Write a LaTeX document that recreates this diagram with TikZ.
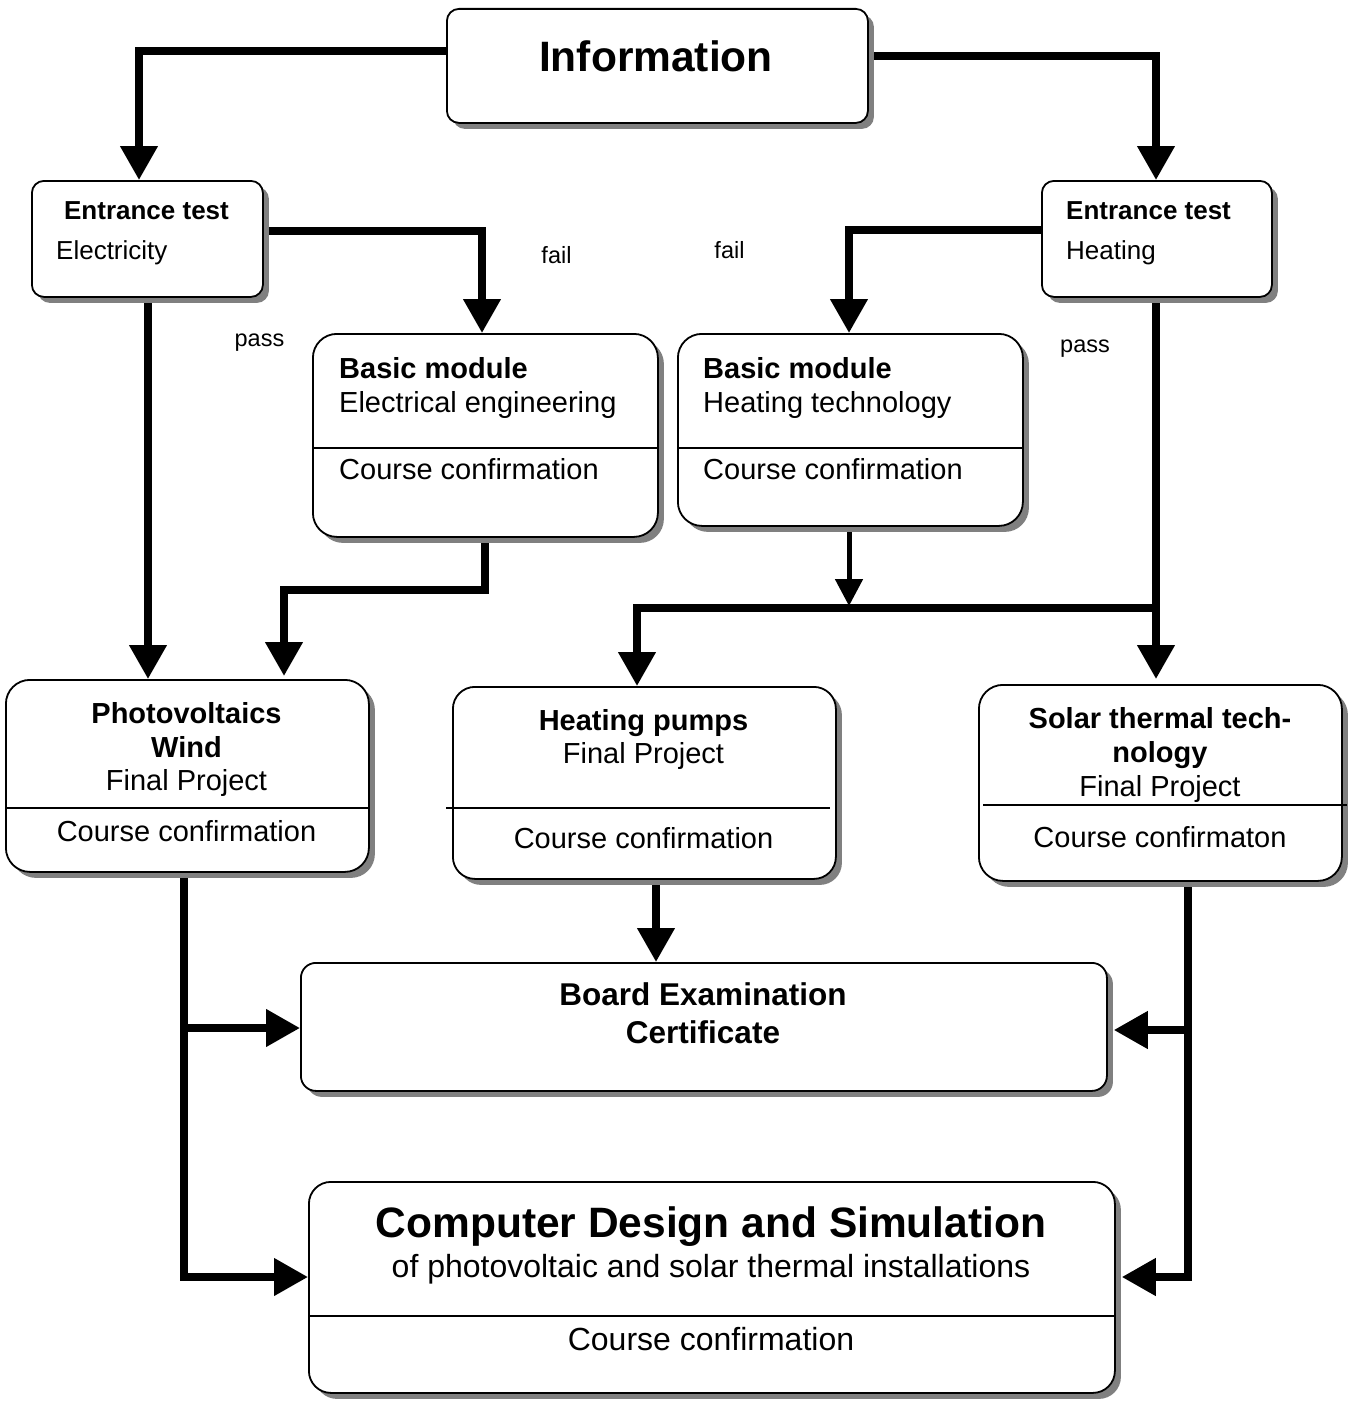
\documentclass[tikz,border=0pt]{standalone}
\usepackage{fontspec}
\setmainfont{Liberation Sans}
\usetikzlibrary{arrows.meta,shadows}
\pgfdeclarelayer{bg}
\pgfsetlayers{bg,main}
\newcommand\myfs[1]{\fontsize{#1}{#1}\selectfont}
\begin{document}
\begin{tikzpicture}[x=1pt,y=-1pt,
  box/.style={draw=black, line width=1.8pt, fill=white, inner sep=0pt, anchor=north west,
    drop shadow={shadow xshift=6pt, shadow yshift=-6pt, fill=black!50, opacity=1}},
  txt/.style={inner sep=0pt, anchor=base},
  txtl/.style={inner sep=0pt, anchor=base west},
  lbl/.style={inner sep=0pt, anchor=base, font=\myfs{23.5}},
  conn/.style={line width=7.5pt, line join=miter, -{Triangle[length=34pt,width=36pt]}},
  thinconn/.style={line width=5pt, -{Triangle[length=27pt,width=27pt]}},
  divider/.style={line width=1.8pt}
]
\useasboundingbox (0,0) rectangle (1350,1405);

% boxes
\node[box, rounded corners=12pt, minimum width=421pt, minimum height=114pt] (info) at (446,8) {};
\node[box, rounded corners=12pt, minimum width=231pt, minimum height=116pt] (ete) at (31,180) {};
\node[box, rounded corners=12pt, minimum width=230pt, minimum height=116pt] (eth) at (1041,180) {};
\node[box, rounded corners=24pt, minimum width=345pt, minimum height=203pt] (bme) at (312,333) {};
\node[box, rounded corners=24pt, minimum width=345pt, minimum height=192pt] (bmh) at (677,333) {};
\node[box, rounded corners=24pt, minimum width=363pt, minimum height=192pt] (pv) at (5,679) {};
\node[box, rounded corners=22pt, minimum width=383pt, minimum height=192pt] (hp) at (452,686) {};
\node[box, rounded corners=24pt, minimum width=363pt, minimum height=196pt] (st) at (978,684) {};
\node[box, rounded corners=15pt, minimum width=806pt, minimum height=128pt] (board) at (300,962) {};
\node[box, rounded corners=22pt, minimum width=806pt, minimum height=211pt] (cds) at (308,1181) {};

% dividers
\draw[divider] (bme.west |- 0,448) -- (bme.east |- 0,448);
\draw[divider] (bmh.west |- 0,448) -- (bmh.east |- 0,448);
\draw[divider] (pv.west |- 0,808) -- (pv.east |- 0,808);
\draw[divider] (446,808) -- (830,808);
\draw[divider] (983,805) -- (1347,805);
\draw[divider] (309,1316) -- (1116,1316);

% texts
\node[txt, font=\myfs{42.5}\bfseries] (tinfo) at (656,71) {Information};
\node[txt, font=\myfs{26}\bfseries] (tete1) at (146.5,219) {Entrance test};
\node[txtl, font=\myfs{26}] (tete2) at (56,259) {Electricity};
\node[txtl, font=\myfs{26}\bfseries] (teth1) at (1066,219) {Entrance test};
\node[txtl, font=\myfs{26}] (teth2) at (1066,259) {Heating};

\node[lbl] (fail1) at (556.5,263) {fail};
\node[lbl] (fail2) at (729.5,258) {fail};
\node[lbl] (pass1) at (259.5,346) {pass};
\node[lbl] (pass2) at (1085,352) {pass};

\node[txtl, font=\myfs{29}\bfseries] (tbme1) at (339,378) {Basic module};
\node[txtl, font=\myfs{29}] (tbme2) at (339,412) {Electrical engineering};
\node[txtl, font=\myfs{29}] (tbme3) at (339,479) {Course confirmation};

\node[txtl, font=\myfs{29}\bfseries] (tbmh1) at (703,378) {Basic module};
\node[txtl, font=\myfs{29}] (tbmh2) at (703,412) {Heating technology};
\node[txtl, font=\myfs{29}] (tbmh3) at (703,479) {Course confirmation};

\node[txt, font=\myfs{29}\bfseries] (tpv1) at (186.5,723) {Photovoltaics};
\node[txt, font=\myfs{29}\bfseries] (tpv2) at (186.5,757) {Wind};
\node[txt, font=\myfs{29}] (tpv3) at (186.5,790) {Final Project};
\node[txt, font=\myfs{29}] (tpv4) at (186.5,841) {Course confirmation};

\node[txt, font=\myfs{29}\bfseries] (thp1) at (643.5,730) {Heating pumps};
\node[txt, font=\myfs{29}] (thp2) at (643.5,763) {Final Project};
\node[txt, font=\myfs{29}] (thp3) at (643.5,848) {Course confirmation};

\node[txt, font=\myfs{29}\bfseries] (tst1) at (1160,728) {Solar thermal tech-};
\node[txt, font=\myfs{29}\bfseries] (tst2) at (1160,762) {nology};
\node[txt, font=\myfs{29}] (tst3) at (1160,796) {Final Project};
\node[txt, font=\myfs{29}] (tst4) at (1160,847) {Course confirmaton};

\node[txt, font=\myfs{31.5}\bfseries] (tb1) at (703,1005) {Board Examination};
\node[txt, font=\myfs{31.5}\bfseries] (tb2) at (703,1043) {Certificate};

\node[txt, font=\myfs{42.5}\bfseries] (tc1) at (711,1237) {Computer Design and Simulation};
\node[txt, font=\myfs{32}] (tc2) at (711,1277) {of photovoltaic and solar thermal installations};
\node[txt, font=\myfs{32}] (tc3) at (711,1350) {Course confirmation};

% connectors
\coordinate (ia) at (139,51);
\coordinate (ib) at (1156,56);
\coordinate (fa) at (482,231);
\coordinate (fb) at (849,230);
\coordinate (pa) at (148,500);
\coordinate (ba) at (485,590);
\coordinate (bb) at (284,590);
\coordinate (pb) at (1156,608);
\coordinate (hpx) at (637,608);
\coordinate (bus) at (849,606);
\coordinate (hc) at (656,900);
\coordinate (pvj1) at (184,1028);
\coordinate (pvj2) at (184,1277);
\coordinate (stj1) at (1188,1030);
\coordinate (stj2) at (1188,1277);

\begin{pgfonlayer}{bg}
\draw[conn] (info.west |- ia) -- (ia) -- (ia |- ete.north);
\draw[conn] (info.east |- ib) -- (ib) -- (ib |- eth.north);
\draw[conn] (ete.east |- fa) -- (fa) -- (fa |- bme.north);
\draw[conn] (eth.west |- fb) -- (fb) -- (fb |- bmh.north);
\draw[conn] (pa |- ete.south) -- (pa |- pv.north);
\draw[conn] (ba |- bme.south) -- (ba) -- (bb) -- ([yshift=3pt]bb |- pv.north);
\draw[thinconn] (bus |- bmh.south) -- (bus);
\draw[conn] (pb |- eth.south) -- ([yshift=5pt]pb |- st.north);
\draw[conn] (pb) -- (hpx) -- (hpx |- hp.north);
\draw[conn] (hc |- hp.south) -- (hc |- board.north);
\draw[conn] (pvj2 |- pv.south) -- (pvj2) -- (cds.west |- pvj2);
\draw[conn] (pvj1) -- (board.west |- pvj1);
\draw[conn] (stj2 |- st.south) -- (stj2) -- ([xshift=6pt]cds.east |- stj2);
\draw[conn] (stj1) -- ([xshift=6pt]board.east |- stj1);
\end{pgfonlayer}
\end{tikzpicture}
\end{document}
